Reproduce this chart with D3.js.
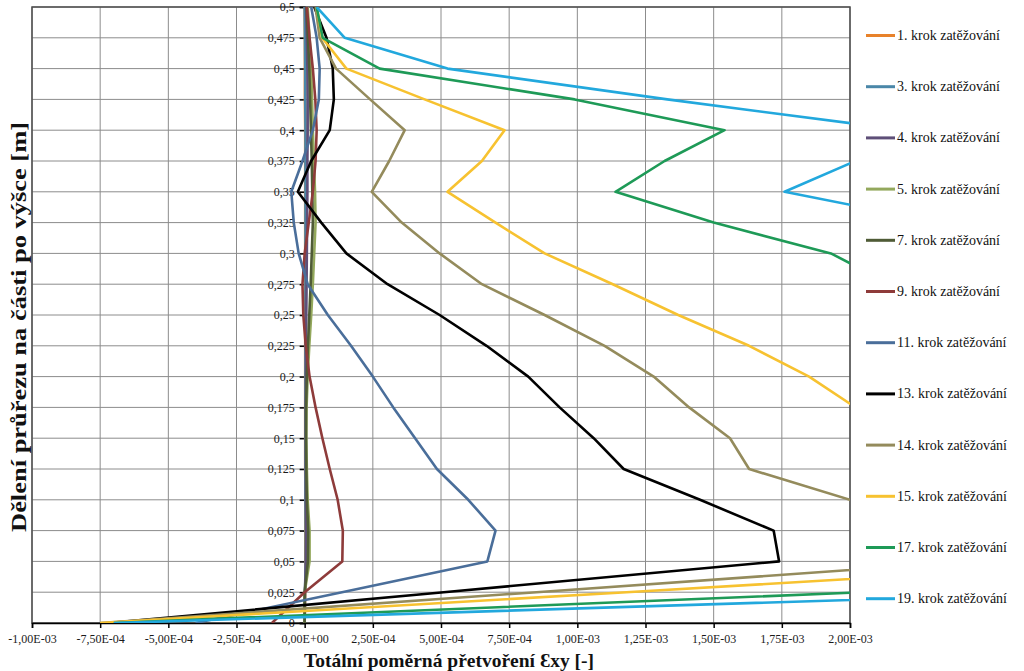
<!DOCTYPE html>
<html><head><meta charset="utf-8">
<script src="https://cdn.jsdelivr.net/npm/d3@7"></script>
<style>
body{margin:0;background:#fff}
svg{display:block}
</style>
</head><body>
<svg id="chart" width="1024" height="671"></svg>
<script>
// ---- data ----
const heights = [0, 0.025, 0.05, 0.075, 0.1, 0.125, 0.15, 0.175, 0.2, 0.225, 0.25, 0.275, 0.3, 0.325, 0.35, 0.375, 0.4, 0.425, 0.45, 0.475, 0.5];
const xTickValues = [-1e-3, -7.5e-4, -5e-4, -2.5e-4, 0, 2.5e-4, 5e-4, 7.5e-4, 1e-3, 1.25e-3, 1.5e-3, 1.75e-3, 2e-3];
const xTickLabels = ["-1,00E-03","-7,50E-04","-5,00E-04","-2,50E-04","0,00E+00","2,50E-04","5,00E-04","7,50E-04","1,00E-03","1,25E-03","1,50E-03","1,75E-03","2,00E-03"];
const yTickLabels = ["0","0,025","0,05","0,075","0,1","0,125","0,15","0,175","0,2","0,225","0,25","0,275","0,3","0,325","0,35","0,375","0,4","0,425","0,45","0,475","0,5"];
const seriesNames = ["1. krok zatěžování","3. krok zatěžování","4. krok zatěžování","5. krok zatěžování","7. krok zatěžování","9. krok zatěžování","11. krok zatěžování","13. krok zatěžování","14. krok zatěžování","15. krok zatěžování","17. krok zatěžování","19. krok zatěžování"];

const step1  = [0, 2e-6, 3e-6, 3e-6, 3e-6, 2e-6, 2e-6, 2e-6, 2e-6, 2e-6, 2e-6, 2e-6, 2e-6, 2e-6, 2e-6, 2e-6, 2e-6, 1e-6, 1e-6, 1e-6, 0];
const step3  = [0, 1e-6, 4e-6, 4e-6, 3e-6, 3e-6, 3e-6, 3e-6, 3e-6, 3e-6, 3e-6, 3e-6, 3e-6, 3e-6, 3e-6, 3e-6, 3e-6, 2e-6, 2e-6, 1e-6, 0];
const step4  = [0, 1e-6, 5e-6, 6e-6, 5e-6, 4e-6, 4e-6, 4e-6, 5e-6, 5e-6, 6e-6, 7e-6, 8e-6, 9e-6, 1e-5, 1e-5, 1.1e-5, 1.1e-5, 1e-5, 8e-6, 5e-6];
const step5  = [0, 0, 1.8e-5, 1.8e-5, 1.1e-5, 8e-6, 6e-6, 7e-6, 1.1e-5, 1.7e-5, 2.4e-5, 3e-5, 3.5e-5, 4e-5, 3.8e-5, 3.4e-5, 3e-5, 2.7e-5, 2.4e-5, 1.8e-5, 1.1e-5];
const step7  = [0, 0, 1.2e-5, 1.3e-5, 8e-6, 6e-6, 5e-6, 5e-6, 8e-6, 1.2e-5, 1.7e-5, 2.2e-5, 2.6e-5, 3e-5, 2.8e-5, 2.6e-5, 2.3e-5, 2e-5, 1.7e-5, 1.2e-5, 7e-6];
const step9  = [-1.2e-4, 0, 1.38e-4, 1.4e-4, 1.21e-4, 9.2e-5, 6.5e-5, 4e-5, 1.8e-5, 4e-6, -5e-6, -8e-6, 0, 1.5e-5, 3e-5, 4e-5, 4.4e-5, 3.9e-5, 3e-5, 1.8e-5, 8e-6];
const step11 = [-4e-4, 1.37e-4, 6.7e-4, 7.0e-4, 6.0e-4, 4.85e-4, 4.05e-4, 3.25e-4, 2.5e-4, 1.7e-4, 8.5e-5, 1.1e-5, -2.2e-5, -4e-5, -4.9e-5, -8e-6, 3e-5, 5.2e-5, 5.5e-5, 4.4e-5, 2.4e-5];
const step13 = [-7.2e-4, 5.1e-4, 1.74e-3, 1.72e-3, 1.45e-3, 1.17e-3, 1.06e-3, 9.35e-4, 8.2e-4, 6.67e-4, 4.95e-4, 3.04e-4, 1.53e-4, 6.1e-5, -2.5e-5, 2.4e-5, 9.2e-5, 1.07e-4, 1.03e-4, 8e-5, 3.5e-5];
const step14 = [-7.5e-4, 8.5e-4, 2.45e-3, 2.3e-3, 2.0e-3, 1.63e-3, 1.56e-3, 1.41e-3, 1.28e-3, 1.1e-3, 8.8e-4, 6.5e-4, 4.95e-4, 3.56e-4, 2.46e-4, 3.1e-4, 3.67e-4, 2.4e-4, 1.15e-4, 5.5e-5, 4e-5];
const step15 = [-7.5e-4, 1.18e-3, 3.1e-3, 2.9e-3, 2.6e-3, 2.4e-3, 2.2e-3, 2.02e-3, 1.85e-3, 1.63e-3, 1.37e-3, 1.13e-3, 8.8e-4, 7.0e-4, 5.24e-4, 6.5e-4, 7.33e-4, 4.4e-4, 1.53e-4, 6.4e-5, 4.4e-5];
const step17 = [-7e-4, 2.05e-3, 3.5e-3, 3.5e-3, 3.3e-3, 3e-3, 2.8e-3, 2.6e-3, 2.5e-3, 2.4e-3, 2.3e-3, 2.15e-3, 1.93e-3, 1.5e-3, 1.14e-3, 1.32e-3, 1.54e-3, 9.9e-4, 2.75e-4, 6.6e-5, 4.4e-5];
const step19 = [-7e-4, 2.91e-3, 5e-3, 4.8e-3, 4.5e-3, 4.2e-3, 3.9e-3, 3.6e-3, 3.3e-3, 3e-3, 2.8e-3, 2.6e-3, 2.45e-3, 2.33e-3, 1.76e-3, 2.02e-3, 2.2e-3, 1.33e-3, 5.24e-4, 1.47e-4, 4.4e-5];

const seriesValues = [step1, step3, step4, step5, step7, step9, step11, step13, step14, step15, step17, step19];
const seriesColors = ["#E8822A","#4A87A8","#5E4F78","#93A85C","#4F5B36","#8E3B3A","#4A6E9A","#000000","#948B5C","#F7C230","#1E9A57","#22A8DD"];

// ---- layout ----
const FONT = '"Liberation Serif","Times New Roman","DejaVu Serif",serif';
const svg = d3.select("#chart");
const L = 32, R = 850, T = 7, B = 623;
const x = d3.scaleLinear().domain([-1e-3, 2e-3]).range([L, R]);
const y = d3.scaleLinear().domain([0, 0.5]).range([B, T]);

svg.append("defs").append("clipPath").attr("id","plotclip")
  .append("rect").attr("x", L).attr("y", T).attr("width", R - L).attr("height", B - T);

// gridlines
const grid = svg.append("g");
grid.selectAll("line.v").data(xTickValues).join("line")
  .attr("x1", d => x(d)).attr("x2", d => x(d)).attr("y1", T).attr("y2", B)
  .attr("stroke", "#8c8c8c").attr("stroke-width", 1);
grid.selectAll("line.h").data(heights).join("line")
  .attr("x1", L).attr("x2", R).attr("y1", d => y(d)).attr("y2", d => y(d))
  .attr("stroke", "#8c8c8c").attr("stroke-width", 1);

// plot border
svg.append("rect").attr("x", L).attr("y", T).attr("width", R - L).attr("height", B - T)
  .attr("fill", "none").attr("stroke", "#4d4d4d").attr("stroke-width", 1.5);

// y axis at x = 0
const yAxis = d3.axisLeft(y).tickValues(heights).tickFormat((d, i) => yTickLabels[i]).tickSize(5).tickPadding(5);
const gy = svg.append("g").attr("transform", `translate(${x(0)},0)`).call(yAxis)
  .attr("font-family", FONT).attr("font-size", 12);
gy.select(".domain").attr("stroke", "#000").attr("stroke-width", 1.5);
gy.selectAll(".tick line").attr("stroke", "#000").attr("stroke-width", 1.5);
gy.selectAll(".tick text").attr("fill", "#1a1a1a");

// x axis at bottom
const xAxis = d3.axisBottom(x).tickValues(xTickValues).tickFormat((d, i) => xTickLabels[i]).tickSize(5).tickPadding(6);
const gx = svg.append("g").attr("transform", `translate(0,${B})`).call(xAxis)
  .attr("font-family", FONT).attr("font-size", 12);
gx.select(".domain").attr("stroke", "#000").attr("stroke-width", 1.5);
gx.selectAll(".tick line").attr("stroke", "#000").attr("stroke-width", 1.5);
gx.selectAll(".tick text").attr("fill", "#1a1a1a");

// lines
const line = d3.line().x(d => x(d[0])).y(d => y(d[1]));
const plot = svg.append("g").attr("clip-path", "url(#plotclip)");
seriesValues.forEach((vals, i) => {
  plot.append("path")
    .datum(vals.map((v, j) => [v, heights[j]]))
    .attr("d", line)
    .attr("fill", "none")
    .attr("stroke", seriesColors[i])
    .attr("stroke-width", 2.6)
    .attr("stroke-linejoin", "round");
});

// axis titles
svg.append("text").attr("x", 449).attr("y", 667).attr("text-anchor", "middle")
  .attr("font-family", FONT).attr("font-size", 19.5).attr("font-weight", "bold").attr("fill", "#111")
  .text("Totální poměrná přetvoření Ɛxy [-]");
svg.append("text").attr("transform", "translate(26,327) rotate(-90)").attr("text-anchor", "middle")
  .attr("font-family", FONT).attr("font-size", 20).attr("font-weight", "bold").attr("fill", "#111")
  .attr("textLength", 410).attr("lengthAdjust", "spacingAndGlyphs")
  .text("Dělení průřezu na části po výšce [m]");

// legend
const legend = svg.append("g").attr("font-family", FONT);
seriesNames.forEach((name, i) => {
  const cy = 35.5 + i * 51.2;
  legend.append("line").attr("x1", 866).attr("x2", 895).attr("y1", cy).attr("y2", cy)
    .attr("stroke", seriesColors[i]).attr("stroke-width", 3);
  legend.append("text").attr("x", 897).attr("y", cy + 4.5).attr("font-size", 14).attr("fill", "#111")
    .text(name);
});
</script>
</body></html>
